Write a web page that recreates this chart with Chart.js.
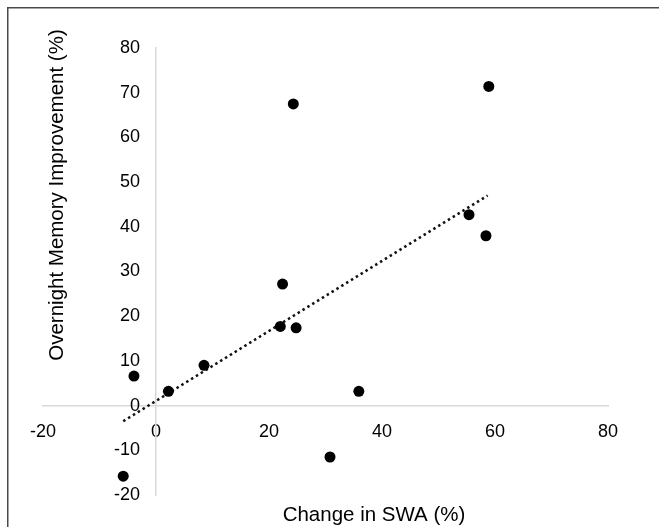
<!DOCTYPE html>
<html>
<head>
<meta charset="utf-8">
<script src="https://cdn.jsdelivr.net/npm/chart.js@4.4.1/dist/chart.umd.min.js"></script>
<style>
  html, body { margin: 0; padding: 0; background: #fff; }
  #wrap { position: relative; width: 659px; height: 527px; }
</style>
</head>
<body>
<div id="wrap"><canvas id="chart" width="659" height="527"></canvas></div>
<script>
// scatter: change in SWA vs overnight memory improvement
const swaChange = [-3.9, -5.8, 2.2, 8.5, 22.0, 22.4, 24.8, 24.3, 35.9, 30.8, 55.4, 58.4, 58.9];
const memoryGain = [6.6, -15.8, 3.2, 9.0, 17.7, 27.2, 17.4, 67.5, 3.2, -11.5, 42.7, 38.0, 71.4];

// trend line ends
const trendX = [-5.8, 58.7];
const trendY = [-3.5, 47.0];

const X_TITLE = 'Change in SWA (%)';
const Y_TITLE = 'Overnight Memory Improvement (%)';

const FONT = '"Liberation Sans", Arial, Helvetica, sans-serif';

// frame + axis titles
const decor = {
  id: 'decor',
  beforeDraw(chart) {
    const ctx = chart.ctx;
    ctx.save();
    ctx.fillStyle = '#fff';
    ctx.fillRect(0, 0, chart.width, chart.height);
    ctx.fillStyle = '#4a4a4a';
    ctx.fillRect(7, 7, chart.width - 7, 1.5);
    ctx.fillRect(7, 7, 1.5, chart.height - 7);
    ctx.restore();
  },
  afterDraw(chart) {
    const ctx = chart.ctx;
    ctx.save();
    ctx.fillStyle = '#000';
    ctx.font = '20.5px ' + FONT;
    ctx.textAlign = 'center';
    ctx.textBaseline = 'middle';
    ctx.fillText(X_TITLE, 374, 515);
    ctx.translate(57, 195);
    ctx.rotate(-Math.PI / 2);
    ctx.fillText(Y_TITLE, 0, 0);
    ctx.restore();
  }
};

const tickFont = { family: FONT, size: 18 };

new Chart(document.getElementById('chart'), {
  type: 'scatter',
  data: {
    datasets: [
      {
        label: 'Subjects',
        data: swaChange.map((x, i) => ({ x, y: memoryGain[i] })),
        backgroundColor: '#000',
        borderWidth: 0,
        pointRadius: 5.5,
        pointHoverRadius: 5.5
      },
      {
        label: 'Trend',
        type: 'line',
        data: trendX.map((x, i) => ({ x, y: trendY[i] })),
        borderColor: '#111',
        borderWidth: 2.5,
        borderDash: [2.5, 3.2],
        pointRadius: 0,
        fill: false
      }
    ]
  },
  options: {
    responsive: false,
    animation: false,
    layout: { padding: { left: 43, right: 51, top: 48, bottom: 32 } },
    plugins: {
      legend: { display: false },
      tooltip: { enabled: false }
    },
    scales: {
      x: {
        type: 'linear',
        position: { y: 0 },
        min: -20,
        max: 80,
        grid: { display: false, drawTicks: false },
        border: { display: true, color: '#d9d9d9', width: 1.5 },
        ticks: { stepSize: 20, padding: 16, color: '#000', font: tickFont }
      },
      // labels of the y axis, set a little left of x = 0
      y: {
        type: 'linear',
        position: { x: -2.85 },
        min: -20,
        max: 80,
        grid: { display: false, drawTicks: false },
        border: { display: false },
        ticks: { stepSize: 10, color: '#000', font: tickFont }
      },
      // the y axis line itself, at x = 0
      yLine: {
        type: 'linear',
        position: { x: 0 },
        min: -20,
        max: 80,
        grid: { display: false, drawTicks: false },
        border: { display: true, color: '#d9d9d9', width: 1.5 },
        ticks: { display: false, stepSize: 10 }
      }
    }
  },
  plugins: [decor]
});
</script>
</body>
</html>
